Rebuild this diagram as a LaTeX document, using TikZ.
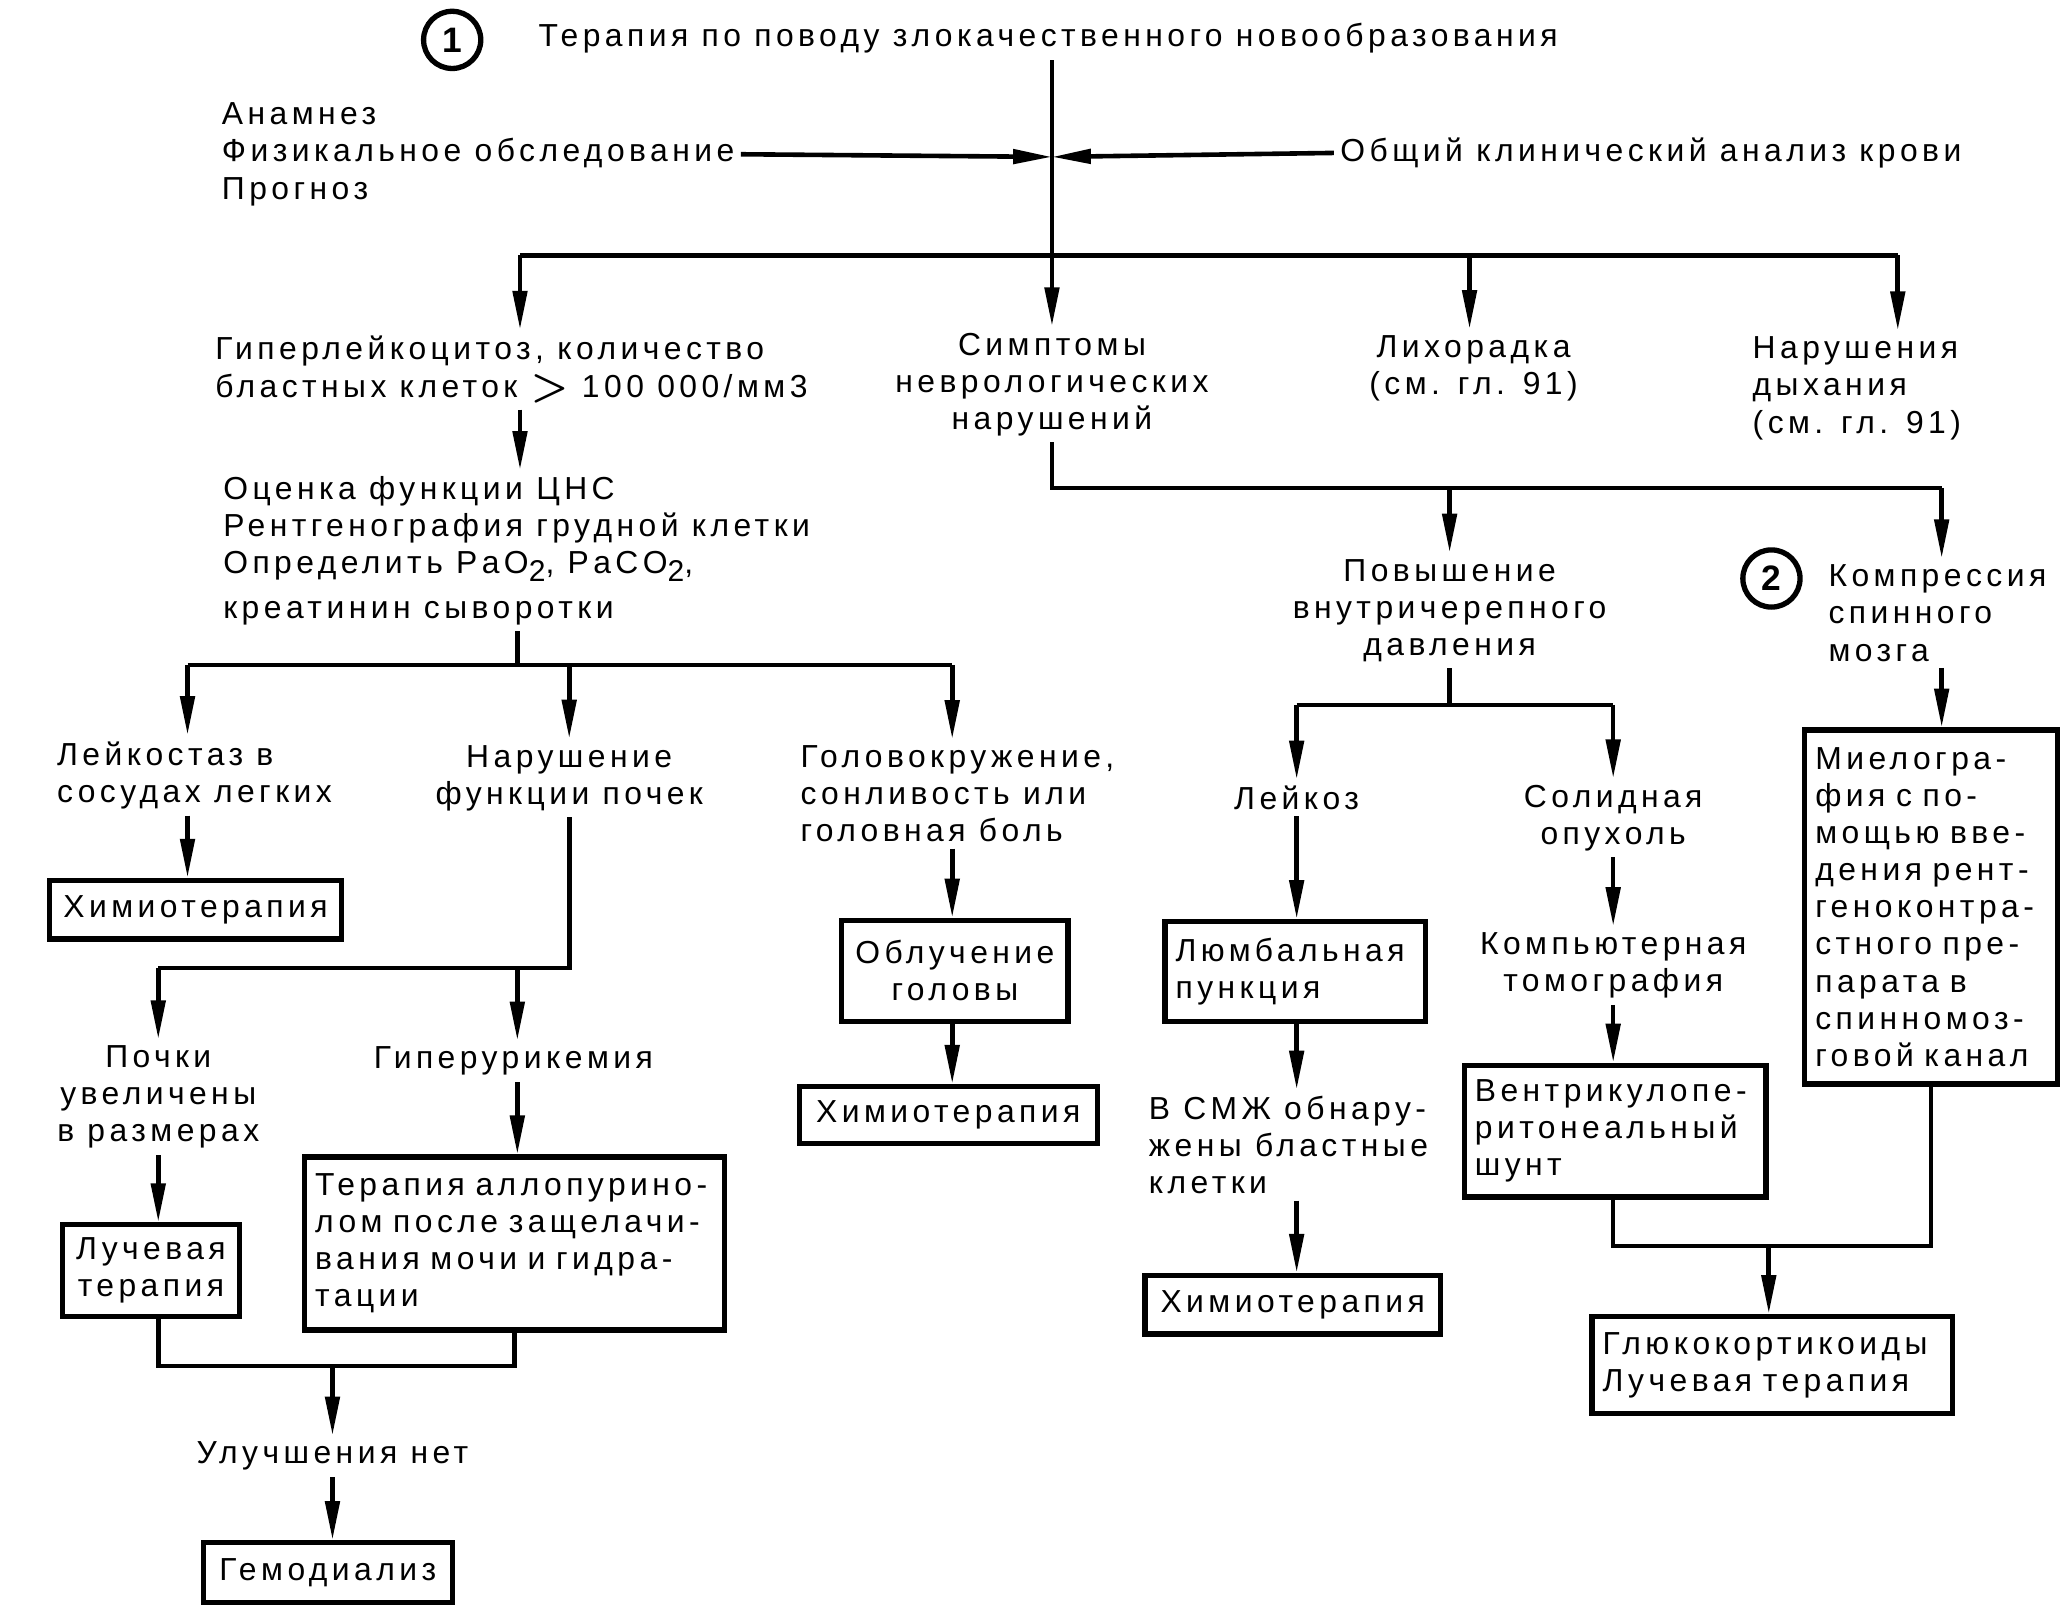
\documentclass[tikz,border=0pt]{standalone}
\usepackage{fontspec}
\setmainfont{Liberation Sans}[LetterSpace=14]
\usepackage{tikz}
\usetikzlibrary{arrows.meta, positioning, calc}
\newcommand{\pxu}{0.376pt}
\newcommand{\lowtwo}{\raisebox{-0.45ex}{\fontsize{8.5}{8.5}\selectfont 2}}
\newcommand{\biggt}{\raisebox{-0.15ex}{\fontsize{13}{10}\selectfont$\boldsymbol{>}$}}
\usepackage{amsmath,amssymb}
\tikzset{
  boxwh/.style 2 args={minimum width=#1*\pxu, minimum height=#2*\pxu, text width=#1*\pxu-16*\pxu}
}

\begin{document}
\begin{tikzpicture}[
  x=0.376pt, y=-0.376pt,
  every node/.style={font=\fontsize{9}{10.5}\selectfont, inner sep=1.2pt},
  every path/.style={line width=1.3pt},
  lbl/.style={align=left, anchor=west},
  clbl/.style={align=center},
  box/.style={draw, line width=1.5pt, inner xsep=8*\pxu, inner ysep=0pt},
  num/.style={circle, draw, line width=1.5pt, minimum size=43*\pxu, inner sep=0pt, font=\fontsize{10}{10}\selectfont\bfseries},
  arr/.style={-{Triangle[length=11pt, width=4pt]}}
]
  \useasboundingbox (0,0) rectangle (1552,1209);

  \node[num] (one) at (340,30) {1};
  \node[lbl] (title) at (400,29) {Терапия по поводу злокачественного новообразования};
  \node[lbl] (anam) at (162,116) {Анамнез\\Физикальное обследование\\Прогноз};
  \node[lbl] (blood) at (1003,115) {Общий клинический анализ крови};
  \coordinate (hub) at (791,118);

  \node[lbl] (hyper) at (157,278) {Гиперлейкоцитоз, количество\\бластных клеток \biggt\ 100 000/мм3};
  \node[clbl] (sympt) at (791,289) {Симптомы\\неврологических\\нарушений};
  \node[clbl] (fever) at (1108,277) {Лихорадка\\(см. гл. 91)};
  \node[lbl] (resp) at (1313,292) {Нарушения\\дыхания\\(см. гл. 91)};

  \node[lbl] (cns) at (163,414) {Оценка функции ЦНС\\Рентгенография грудной клетки\\Определить PaO\lowtwo, PaCO\lowtwo,\\[2pt]креатинин сыворотки};
  \node[lbl] (leuko) at (38,583) {Лейкостаз в\\сосудах легких};
  \node[clbl] (renal) at (428,585) {Нарушение\\функции почек};
  \node[lbl] (dizzy) at (597,597) {Головокружение,\\сонливость или\\головная боль};

  \node[box, boxwh={220}{44}, align=center] (chemoA) at (147,684) {Химиотерапия};
  \node[clbl] (kidney) at (119,825) {Почки\\увеличены\\в размерах};
  \node[clbl] (urik) at (386,798) {Гиперурикемия};
  \node[box, boxwh={133}{69}, align=center] (rayA) at (113.5,955.5) {Лучевая\\терапия};
  \node[box, boxwh={316}{130}, align=left] (allop) at (387,935) {Терапия аллопурино-\\лом после защелачи-\\вания мочи и гидра-\\тации};
  \node[clbl] (noimpr) at (250,1095) {Улучшения нет};
  \node[box, boxwh={187}{45}, align=center] (dial) at (246.5,1182.5) {Гемодиализ};

  \node[box, boxwh={170}{76}, align=center] (headrad) at (718,730) {Облучение\\головы};
  \node[box, boxwh={224}{43}, align=center] (chemoB) at (713,838.5) {Химиотерапия};

  \node[clbl] (icp) at (1090,459) {Повышение\\внутричерепного\\давления};
  \node[num] (two) at (1332,435) {2};
  \node[lbl] (spinal) at (1370,461) {Компрессия\\спинного\\мозга};
  \node[box, boxwh={190}{266}, align=left] (myelo) at (1452,682) {Миелогра-\\фия с по-\\мощью вве-\\дения рент-\\геноконтра-\\стного пре-\\парата в\\спинномоз-\\говой канал};
  \node[clbl] (leukoz) at (975,600) {Лейкоз};
  \node[clbl] (solid) at (1213,615) {Солидная\\опухоль};
  \node[box, boxwh={196}{75}, align=left] (lumb) at (974,730.5) {Люмбальная\\пункция};
  \node[clbl] (ct) at (1213,726) {Компьютерная\\томография};
  \node[lbl] (csf) at (859,861) {В СМЖ обнару-\\жены бластные\\клетки};
  \node[box, boxwh={222}{44}, align=center] (chemoC) at (972,981) {Химиотерапия};
  \node[box, boxwh={227}{99}, align=left] (shunt) at (1214.5,850.5) {Вентрикулопе-\\ритонеальный\\шунт};
  \node[box, boxwh={271}{73}, align=left] (gluco) at (1332.5,1026.5) {Глюкокортикоиды\\Лучевая терапия};

  \coordinate (b1) at (391,192);
  \coordinate (b2) at (1105,192);
  \coordinate (b3) at (1427,192);
  \coordinate (c0) at (389,500);
  \coordinate (c1) at (141,500);
  \coordinate (c2) at (428,500);
  \coordinate (c3) at (716,500);
  \coordinate (k1) at (119,728);
  \coordinate (k2) at (389,728);
  \coordinate (j1) at (250,1027);
  \coordinate (s1) at (1090,367);
  \coordinate (s2) at (1460,367);
  \coordinate (i1) at (975,530);
  \coordinate (i2) at (1213,530);
  \coordinate (g1) at (1330,937);

  \draw[arr] (title.south -| hub) -- (sympt.north);
  \draw[arr] (anam.east) -- (hub);
  \draw[arr] (blood.west) -- (hub);
  \draw (b1) -- (b3);
  \draw[arr] (b1) -- (b1 |- hyper.north);
  \draw[arr] (b2) -- (b2 |- fever.north);
  \draw[arr] (b3) -- (b3 |- resp.north);

  \draw[arr] (b1 |- hyper.south) -- (b1 |- cns.north);
  \draw (c0 |- cns.south) -- (c0);
  \draw (c1) -- (c3);
  \draw[arr] (c1) -- (c1 |- leuko.north);
  \draw[arr] (c2) -- (renal.north);
  \draw[arr] (c3) -- (c3 |- dizzy.north);
  \draw[arr] (c1 |- leuko.south) -- (c1 |- chemoA.north);

  \draw (renal.south) |- (k1);
  \draw[arr] (k1) -- (kidney.north);
  \draw[arr] (k2) -- (k2 |- urik.north);
  \draw[arr] (kidney.south) -- (kidney.south |- rayA.north);
  \draw[arr] (k2 |- urik.south) -- (k2 |- allop.north);
  \draw (rayA.south -| k1) |- (j1) -| (allop.south);
  \draw[arr] (j1) -- (noimpr.north);
  \draw[arr] (noimpr.south) -- (noimpr.south |- dial.north);

  \draw[arr] (c3 |- dizzy.south) -- (c3 |- headrad.north);
  \draw[arr] (c3 |- headrad.south) -- (c3 |- chemoB.north);

  \draw (sympt.south) |- (s2);
  \draw[arr] (s1) -- (icp.north);
  \draw[arr] (s2) -- (s2 |- spinal.north);
  \draw (icp.south) -- (icp.south |- i1);
  \draw (i1) -- (i2);
  \draw[arr] (i1) -- (leukoz.north);
  \draw[arr] (i2) -- (solid.north);
  \draw[arr] (leukoz.south) -- (leukoz.south |- lumb.north);
  \draw[arr] (leukoz |- lumb.south) -- (leukoz |- csf.north);
  \draw[arr] (leukoz |- csf.south) -- (leukoz |- chemoC.north);
  \draw[arr] (solid.south) -- (ct.north);
  \draw[arr] (ct.south) -- (ct.south |- shunt.north);
  \draw[arr] (s2 |- spinal.south) -- (s2 |- myelo.north);
  \draw (shunt.south -| ct) |- (g1) -| (myelo.south);
  \draw[arr] (g1) -- (g1 |- gluco.north);
\end{tikzpicture}
\end{document}
